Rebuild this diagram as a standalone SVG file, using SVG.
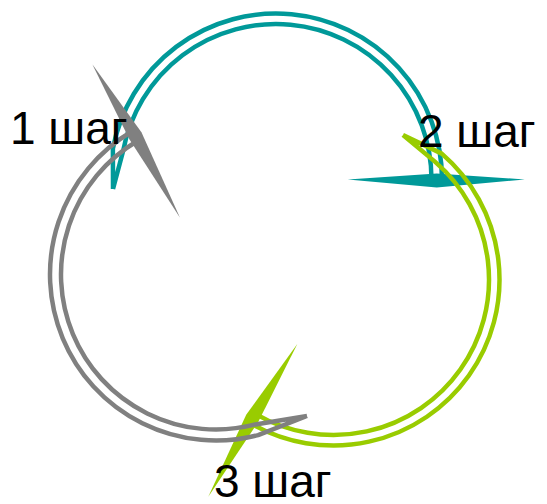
<svg xmlns="http://www.w3.org/2000/svg" width="547" height="504" viewBox="0 0 547 504">
  <style>
    .band { fill: none; stroke-width: 4.5; stroke-linejoin: round; }
    .teal { stroke: #009999; }
    .green { stroke: #99CC00; }
    .gray { stroke: #808080; }
    .label { font-family: "Liberation Sans", Arial, sans-serif; font-size: 46px; fill: #000000; }
  </style>
  <rect width="547" height="504" fill="#ffffff"/>
  <g id="connectors">
    <g id="arrow-1-2">
      <path class="band teal" d="M113,189 L112.89,148.68 A166,166 0 0 1 442,179.5 M431.5,179.5 A155.5,155.5 0 0 0 123.2,150.63 L113,189"/>
      <polygon points="347.75,179.5 436.75,173.5 524.75,179.5 436.75,187.5" fill="#009999"/>
    </g>
    <g id="arrow-2-3">
      <path class="band green" d="M403,135 L441.75,153.65 A166,166 0 0 1 250.5,423.26 M255.75,414.17 A155.5,155.5 0 0 0 434.9,161.61 L403,135"/>
      <polygon points="208.3,496.7 246.2,414.71 297.3,344 258.33,421.71" fill="#99CC00"/>
    </g>
    <g id="arrow-3-1">
      <path class="band gray" d="M307,416 L258.12,435.07 A166,166 0 0 1 131.75,131.47 M137.33,140.95 A155,155 0 0 0 255.33,424.43 L307,416"/>
      <polygon points="92.3,64.3 141.43,132.15 180,217.7 129.37,139.26" fill="#808080"/>
    </g>
  </g>
  <g id="step1"><text class="label" x="10" y="144">1 шаг</text></g>
  <g id="step2"><text class="label" x="418" y="147">2 шаг</text></g>
  <g id="step3"><text class="label" x="214" y="497">3 шаг</text></g>
</svg>
